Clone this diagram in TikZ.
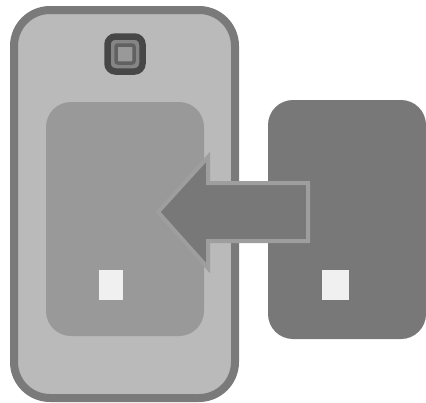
\documentclass[tikz,border=0pt]{standalone}
\begin{document}
\begin{tikzpicture}[x=1pt,y=-1pt,
  phonebody/.style={fill=black!27,draw=black!52,line width=8pt,rounded corners=36pt},
  panel/.style={fill=black!40,rounded corners=25pt},
  carddark/.style={fill=black!53,rounded corners=25pt},
  chip/.style={fill=black!6},
  pointer/.style={fill=black!53,draw=black!38,line width=4pt,line join=miter}]
\useasboundingbox (0,0) rectangle (426,402);
\fill[white] (0,0) rectangle (426,402);
\draw[phonebody] (14,10) rectangle (235,398);
\fill[panel] (46,102) rectangle (204,336);
\fill[carddark] (268,100) rectangle (426,339);
\fill[chip] (99,270) rectangle (123,300);
\fill[chip] (322,270) rectangle (349,300);
\draw[pointer] (158,212) -- (208,157) -- (208,183) -- (308,183) -- (308,241) -- (208,241) -- (208,268) -- cycle;
\draw[black!72,line width=6.5pt,fill=black!48,rounded corners=8pt] (107.5,36.5) rectangle (142.5,71.5);
\draw[black!62,line width=3.5pt,fill=black!40,rounded corners=2pt] (116,45) rectangle (134,63);
\end{tikzpicture}
\end{document}
